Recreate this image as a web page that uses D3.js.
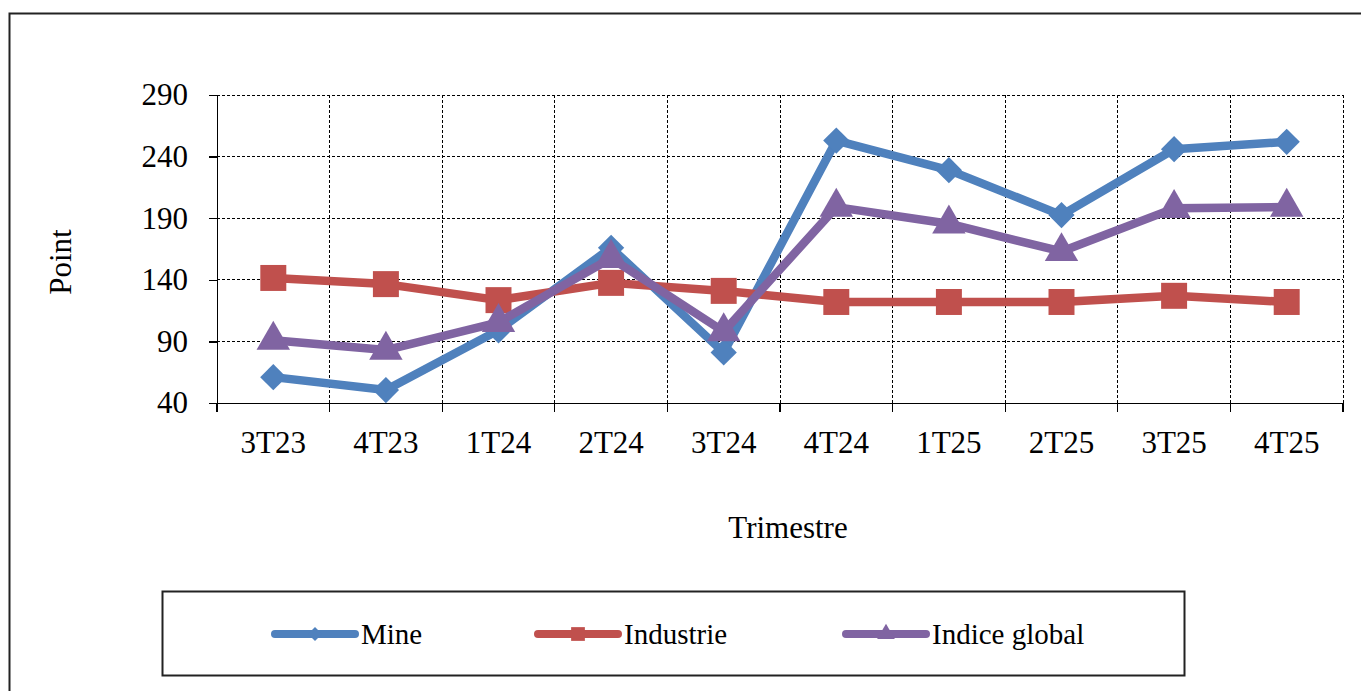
<!DOCTYPE html>
<meta charset="utf-8">
<script src="https://cdn.jsdelivr.net/npm/d3@7"></script>
<style>
body {
  margin: 0;
  background-color: #fff;
}
text {
  font-family: "Liberation Serif", "Times New Roman", serif;
  fill: #000;
}
.grid line {
  stroke: #000;
  stroke-width: 1px;
  stroke-dasharray: 3,2;
  shape-rendering: crispEdges;
}
.axis path,
.axis line {
  stroke: #000;
  stroke-width: 1.3px;
  shape-rendering: crispEdges;
}
</style>
<body>
  <div id="chart"></div>
</body>
<script>
var quarters = ["3T23", "4T23", "1T24", "2T24", "3T24", "4T24", "1T25", "2T25", "3T25", "4T25"];
var mine = [61, 50.5, 99, 166, 81, 253, 229, 192.5, 246, 252];
var industrie = [141.5, 136.5, 123.5, 137.5, 131, 122, 122, 122, 127, 122];
var indiceGlobal = [91, 83, 105.5, 157.5, 98, 199, 185.5, 163, 198, 199];
var yTicks = [40, 90, 140, 190, 240, 290];

var series = [
  {name: "Mine", values: mine, color: "#4F81BD", symbol: d3.symbolDiamond2, size: 440},
  {name: "Industrie", values: industrie, color: "#C0504D", symbol: d3.symbolSquare2, size: 860},
  {name: "Indice global", values: indiceGlobal, color: "#8064A2", symbol: d3.symbolTriangle2, size: 800}
];

var width = 1361, height = 691;
var margin = {top: 95, left: 217, right: 18, bottom: 288};
var fontSize = "31px";

var svg = d3.select("#chart").append("svg")
    .attr("width", width)
    .attr("height", height);

// outer frame of the chart (runs off right and bottom edge)
svg.append("rect")
    .attr("x", 9.5).attr("y", 13.5)
    .attr("width", 1400).attr("height", 720)
    .attr("fill", "none")
    .attr("stroke", "#222")
    .attr("stroke-width", 2);

var x = d3.scaleBand().domain(quarters).range([margin.left, width - margin.right]);
var y = d3.scaleLinear().domain([40, 290]).range([height - margin.bottom, margin.top]);

// gridlines
var grid = svg.append("g").attr("class", "grid");
grid.selectAll(".h")
    .data(yTicks.slice(1))
    .enter().append("line")
    .attr("x1", x.range()[0]).attr("x2", x.range()[1])
    .attr("y1", function(d) { return y(d); })
    .attr("y2", function(d) { return y(d); });
var bounds = quarters.map(function(q) { return x(q); }).slice(1).concat([x.range()[1]]);
grid.selectAll(".v")
    .data(bounds)
    .enter().append("line")
    .attr("x1", function(d) { return d; }).attr("x2", function(d) { return d; })
    .attr("y1", y(290)).attr("y2", y(40));

// y axis
var yAxis = svg.append("g")
    .attr("class", "axis")
    .attr("transform", "translate(" + margin.left + ",0)")
    .call(d3.axisLeft(y).tickValues(yTicks).tickSize(8).tickSizeOuter(0));
yAxis.selectAll("text")
    .style("font-size", fontSize)
    .attr("x", -29);

// x axis: ticks at band edges
var xAxis = svg.append("g")
    .attr("class", "axis")
    .attr("transform", "translate(0," + y(40) + ")")
    .call(d3.axisBottom(x).tickSize(0).tickSizeOuter(0));
xAxis.selectAll("text")
    .style("font-size", fontSize)
    .attr("dy", null)
    .attr("y", 50);
xAxis.selectAll(".edge")
    .data([x.range()[0]].concat(bounds))
    .enter().append("line")
    .attr("x1", function(d) { return d; }).attr("x2", function(d) { return d; })
    .attr("y1", 0).attr("y2", 9);

// axis titles
svg.append("text")
    .attr("transform", "translate(71,262) rotate(-90)")
    .attr("text-anchor", "middle")
    .style("font-size", fontSize)
    .text("Point");
svg.append("text")
    .attr("x", 788).attr("y", 538)
    .attr("text-anchor", "middle")
    .style("font-size", fontSize)
    .text("Trimestre");

// lines and markers
var line = d3.line()
    .x(function(d, i) { return x(quarters[i]) + x.bandwidth() / 2; })
    .y(function(d) { return y(d); });

series.forEach(function(s) {
  svg.append("path")
      .datum(s.values)
      .attr("d", line)
      .attr("fill", "none")
      .attr("stroke", s.color)
      .attr("stroke-width", 8.5)
      .attr("stroke-linejoin", "round");
  svg.selectAll(".m-" + s.name.replace(" ", ""))
      .data(s.values)
      .enter().append("path")
      .attr("d", d3.symbol().type(s.symbol).size(s.size))
      .attr("transform", function(d, i) {
        return "translate(" + (x(quarters[i]) + x.bandwidth() / 2) + "," + y(d) + ")";
      })
      .attr("fill", s.color);
});

// legend
var legend = svg.append("g");
legend.append("rect")
    .attr("x", 162.5).attr("y", 591.5)
    .attr("width", 1022).attr("height", 84)
    .attr("fill", "none")
    .attr("stroke", "#222")
    .attr("stroke-width", 2);
var legendX = [272, 535, 843];
series.forEach(function(s, i) {
  var g = legend.append("g").attr("transform", "translate(" + legendX[i] + ",634)");
  g.append("line")
      .attr("x1", 3).attr("x2", 83)
      .attr("stroke", s.color)
      .attr("stroke-width", 8)
      .attr("stroke-linecap", "round");
  g.append("path")
      .attr("d", d3.symbol().type(s.symbol).size(s.size * 0.28))
      .attr("transform", "translate(43,0)")
      .attr("fill", s.color);
  g.append("text")
      .attr("x", 89).attr("y", 10)
      .style("font-size", "29px")
      .text(s.name);
});
</script>
